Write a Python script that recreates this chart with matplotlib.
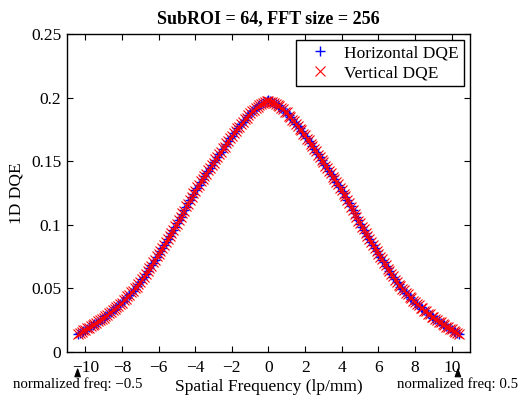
import matplotlib
matplotlib.use("Agg")
import matplotlib.pyplot as plt
import numpy as np

plt.rcParams["font.family"] = ["Liberation Serif", "DejaVu Serif"]
plt.rcParams["axes.unicode_minus"] = True

# Spatial frequency samples (lp/mm), 0.1 lp/mm apart
freq = np.round(np.linspace(-10.4, 10.4, 209), 2)

# DQE values, from -10.4 to 10.4 lp/mm
horizontal_dqe = [
    0.0141, 0.0151, 0.0157, 0.0167, 0.0176, 0.0183, 0.0194, 0.0201, 0.0212, 0.0219,
    0.0231, 0.0239, 0.0251, 0.0259, 0.0271, 0.0280, 0.0294, 0.0303, 0.0317, 0.0327,
    0.0341, 0.0351, 0.0366, 0.0376, 0.0391, 0.0404, 0.0421, 0.0434, 0.0451, 0.0465,
    0.0483, 0.0497, 0.0516, 0.0531, 0.0551, 0.0570, 0.0593, 0.0613, 0.0637, 0.0657,
    0.0681, 0.0702, 0.0726, 0.0747, 0.0771, 0.0793, 0.0818, 0.0840, 0.0865, 0.0887,
    0.0913, 0.0935, 0.0961, 0.0984, 0.1011, 0.1035, 0.1063, 0.1088, 0.1116, 0.1142,
    0.1171, 0.1194, 0.1221, 0.1244, 0.1271, 0.1292, 0.1316, 0.1337, 0.1361, 0.1381,
    0.1404, 0.1424, 0.1448, 0.1467, 0.1491, 0.1510, 0.1534, 0.1553, 0.1576, 0.1596,
    0.1619, 0.1638, 0.1661, 0.1679, 0.1701, 0.1719, 0.1741, 0.1757, 0.1776, 0.1792,
    0.1811, 0.1827, 0.1846, 0.1861, 0.1881, 0.1891, 0.1906, 0.1917, 0.1931, 0.1940,
    0.1951, 0.1957, 0.1967, 0.1971,
    0.1978,
    0.1973, 0.1965, 0.1959, 0.1949, 0.1942, 0.1929, 0.1919, 0.1904, 0.1893, 0.1879,
    0.1863, 0.1844, 0.1829, 0.1809, 0.1794, 0.1774, 0.1759, 0.1739, 0.1721, 0.1699,
    0.1681, 0.1659, 0.1640, 0.1617, 0.1598, 0.1574, 0.1555, 0.1532, 0.1512, 0.1489,
    0.1469, 0.1446, 0.1426, 0.1402, 0.1383, 0.1359, 0.1339, 0.1314, 0.1294, 0.1269,
    0.1246, 0.1219, 0.1196, 0.1169, 0.1144, 0.1114, 0.1090, 0.1061, 0.1037, 0.1009,
    0.0986, 0.0959, 0.0937, 0.0911, 0.0889, 0.0863, 0.0842, 0.0816, 0.0795, 0.0769,
    0.0749, 0.0724, 0.0704, 0.0679, 0.0659, 0.0635, 0.0615, 0.0591, 0.0572, 0.0549,
    0.0533, 0.0514, 0.0499, 0.0481, 0.0467, 0.0449, 0.0436, 0.0419, 0.0406, 0.0389,
    0.0378, 0.0364, 0.0353, 0.0339, 0.0329, 0.0315, 0.0305, 0.0292, 0.0282, 0.0269,
    0.0261, 0.0249, 0.0241, 0.0229, 0.0221, 0.0210, 0.0203, 0.0192, 0.0185, 0.0174,
    0.0167, 0.0157, 0.0151, 0.0141,
]
vertical_dqe = [
    0.0139, 0.0153, 0.0156, 0.0169, 0.0173, 0.0186, 0.0191, 0.0205, 0.0209, 0.0223,
    0.0228, 0.0243, 0.0248, 0.0263, 0.0268, 0.0284, 0.0290, 0.0307, 0.0313, 0.0331,
    0.0337, 0.0355, 0.0362, 0.0380, 0.0387, 0.0408, 0.0417, 0.0438, 0.0447, 0.0469,
    0.0479, 0.0501, 0.0512, 0.0535, 0.0547, 0.0574, 0.0589, 0.0617, 0.0633, 0.0661,
    0.0677, 0.0706, 0.0722, 0.0751, 0.0767, 0.0797, 0.0814, 0.0844, 0.0861, 0.0891,
    0.0909, 0.0939, 0.0957, 0.0988, 0.1007, 0.1039, 0.1059, 0.1092, 0.1112, 0.1146,
    0.1167, 0.1198, 0.1217, 0.1248, 0.1267, 0.1296, 0.1312, 0.1341, 0.1357, 0.1385,
    0.1400, 0.1428, 0.1444, 0.1471, 0.1487, 0.1514, 0.1530, 0.1557, 0.1572, 0.1600,
    0.1615, 0.1642, 0.1657, 0.1683, 0.1697, 0.1723, 0.1737, 0.1761, 0.1772, 0.1796,
    0.1807, 0.1831, 0.1842, 0.1865, 0.1877, 0.1895, 0.1902, 0.1921, 0.1927, 0.1944,
    0.1947, 0.1961, 0.1963, 0.1974,
    0.1970,
    0.1969, 0.1969, 0.1955, 0.1953, 0.1938, 0.1933, 0.1915, 0.1908, 0.1889, 0.1883,
    0.1859, 0.1848, 0.1825, 0.1813, 0.1790, 0.1778, 0.1755, 0.1743, 0.1717, 0.1703,
    0.1677, 0.1663, 0.1636, 0.1621, 0.1594, 0.1578, 0.1551, 0.1536, 0.1508, 0.1493,
    0.1465, 0.1450, 0.1422, 0.1406, 0.1379, 0.1363, 0.1335, 0.1318, 0.1290, 0.1273,
    0.1242, 0.1223, 0.1192, 0.1173, 0.1140, 0.1118, 0.1086, 0.1065, 0.1033, 0.1013,
    0.0982, 0.0963, 0.0933, 0.0915, 0.0885, 0.0867, 0.0838, 0.0820, 0.0791, 0.0773,
    0.0745, 0.0728, 0.0700, 0.0683, 0.0655, 0.0639, 0.0611, 0.0595, 0.0568, 0.0553,
    0.0529, 0.0518, 0.0495, 0.0485, 0.0463, 0.0453, 0.0432, 0.0423, 0.0402, 0.0393,
    0.0374, 0.0368, 0.0349, 0.0343, 0.0325, 0.0319, 0.0301, 0.0296, 0.0278, 0.0273,
    0.0257, 0.0253, 0.0237, 0.0233, 0.0217, 0.0214, 0.0199, 0.0196, 0.0181, 0.0178,
    0.0163, 0.0161, 0.0147, 0.0145,
]
assert len(horizontal_dqe) == len(freq) == len(vertical_dqe)

x_ticks = [-10, -8, -6, -4, -2, 0, 2, 4, 6, 8, 10]
y_ticks = [0, 0.05, 0.1, 0.15, 0.2, 0.25]
y_tick_labels = ["0", "0.05", "0.1", "0.15", "0.2", "0.25"]

# Nyquist markers: normalized frequency -> spatial frequency
norm_freq = [-0.5, 0.5]
norm_freq_pos = [-10.42, 10.34]
norm_freq_text = ["normalized freq: \u22120.5", "normalized freq: 0.5"]

fig = plt.figure(figsize=(5.21, 3.98), dpi=100, facecolor="white")
ax = fig.add_axes([0.1286, 0.1156, 0.7735, 0.799])

ax.plot(freq, horizontal_dqe, linestyle="none", marker="+", color="#0000ff",
        markersize=7, markeredgewidth=1.0, label="Horizontal DQE")
ax.plot(freq, vertical_dqe, linestyle="none", marker="x", color="#ff0000",
        markersize=7, markeredgewidth=0.8, label="Vertical DQE")

ax.set_xlim(-11, 11)
ax.set_ylim(0, 0.25)
ax.set_xticks(x_ticks)
ax.set_yticks(y_ticks)
ax.set_yticklabels(y_tick_labels)
ax.tick_params(direction="in", length=4, width=0.8, top=True, right=True,
               labelsize=12.5)
ax.tick_params(axis="x", pad=6)
ax.tick_params(axis="y", pad=4)
for spine in ax.spines.values():
    spine.set_linewidth(1.0)

ax.set_title("SubROI = 64, FFT size = 256", fontsize=13, fontweight="bold", pad=8)
ax.set_xlabel("Spatial Frequency (lp/mm)", fontsize=12.5, labelpad=2)
ax.set_ylabel("1D DQE", fontsize=12.5, labelpad=5)

leg = ax.legend(loc="upper right", fontsize=12.5, fancybox=False, framealpha=1,
                edgecolor="black", borderpad=0.3, handletextpad=0.35,
                labelspacing=0.2, borderaxespad=0.35, handlelength=2.1)
leg.get_frame().set_linewidth(1.0)

for pos, txt in zip(norm_freq_pos, norm_freq_text):
    ax.annotate(txt, xy=(pos, -0.0122), xytext=(pos, -0.0252),
                ha="center", va="center", fontsize=10.7, annotation_clip=False,
                arrowprops=dict(arrowstyle="-|>,head_length=0.55,head_width=0.2",
                                color="black", lw=0.8, mutation_scale=10,
                                shrinkA=0, shrinkB=0))

fig.savefig("out.png", dpi=100)
